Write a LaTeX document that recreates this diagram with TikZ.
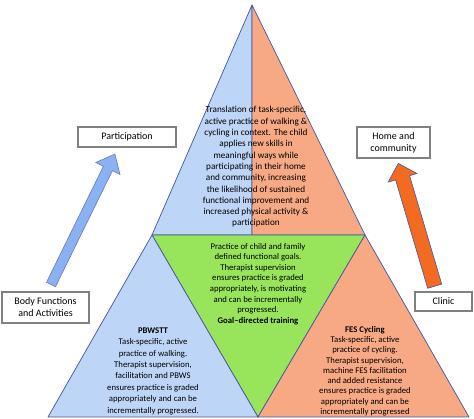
\documentclass[tikz,border=0pt]{standalone}
\usepackage{fontspec}
\setmainfont{Carlito}
\usepackage{tikz}

\definecolor{lblue}{HTML}{BDD5F7}
\definecolor{salmon}{HTML}{F7A984}
\definecolor{lime}{HTML}{98E55C}
\definecolor{edgeblue}{HTML}{45559E}
\definecolor{arrblue}{HTML}{8AB2F2}
\definecolor{arrorange}{HTML}{F26B21}
\definecolor{boxgray}{HTML}{808080}

\tikzset{
  part/.style = {draw = edgeblue, line width = 0.7pt, line join = round},
  levelbox/.style = {draw = boxgray, line width = 1.2pt, fill = white, inner sep = 0pt},
  blocktext/.style = {align = center, inner sep = 0pt, font = \fontsize{8.7}{11.2}\selectfont},
  boxtext/.style = {align = center, inner sep = 0pt, font = \fontsize{10}{12}\selectfont}
}

\begin{document}
\begin{tikzpicture}[x = 1pt, y = -1pt]
  \useasboundingbox (0, 0) rectangle (474, 419);

  \filldraw[part, fill = lblue] (252, 5) -- (152, 235) -- (252, 235) -- cycle;
  \filldraw[part, fill = salmon] (252, 5) -- (252, 235) -- (365, 235) -- cycle;

  \filldraw[part, fill = lime] (152, 235) -- (365, 235) -- (258, 417) -- cycle;
  \filldraw[part, fill = lblue] (152, 235) -- (258, 417) -- (48, 417) -- cycle;
  \filldraw[part, fill = salmon] (365, 235) -- (469, 417) -- (258, 417) -- cycle;

  \filldraw[draw = edgeblue!80, fill = arrblue, line width = 0.6pt]
    (46.5, 282.3) -- (55.5, 286.7) -- (112.4, 170.7) -- (120.0, 174.5)
    -- (114.9, 154.1) -- (95.8, 162.5) -- (103.4, 166.3) -- cycle;
  \filldraw[draw = edgeblue, fill = arrorange, line width = 0.6pt]
    (427.7, 288.3) -- (441.7, 284.1) -- (409.6, 175.7) -- (417.0, 173.5)
    -- (398.3, 163.4) -- (388.2, 182.1) -- (395.6, 179.9) -- cycle;

  \node[blocktext, font = \fontsize{9.2}{11.3}\selectfont] (context) at (256, 167)
    {Translation of task-specific,\\
    active practice of walking \&\\ cycling in context. The child\\
    applies new skills in\\ meaningful ways while\\
    participating in their home\\ and community, increasing\\
    the likelihood of sustained\\ functional improvement and\\
    increased physical activity \&\\ participation};

  \node[blocktext, font = \fontsize{8.7}{10.6}\selectfont] (goals) at (258, 284)
    {Practice of child and family\\ defined functional goals.\\
    Therapist supervision\\ ensures practice is graded\\
    appropriately, is motivating\\ and can be incrementally\\
    progressed.\\ \textbf{Goal--directed training}};

  \node[blocktext, font = \fontsize{8.7}{11.4}\selectfont] (pbwstt) at (153, 371)
    {\textbf{PBWSTT}\\ Task-specific, active\\ practice of walking.\\
    Therapist supervision,\\ facilitation and PBWS\\
    ensures practice is graded\\ appropriately and can be\\
    incrementally progressed.};

  \node[blocktext, font = \fontsize{8.7}{10.3}\selectfont] (fes) at (365, 371)
    {\textbf{FES Cycling}\\ Task-specific, active\\ practice of cycling.\\
    Therapist supervision,\\ machine FES facilitation\\
    and added resistance\\ ensures practice is graded\\
    appropriately and can be\\ incrementally progressed};

  \filldraw[levelbox] (78, 127) rectangle (176, 147);
  \node[boxtext] (participation) at (127, 137) {Participation};
  \filldraw[levelbox] (2, 292) rectangle (89, 323);
  \node[boxtext] (body) at (45.5, 307.5) {Body Functions\\ and Activities};
  \filldraw[levelbox] (357, 127) rectangle (430, 158);
  \node[boxtext] (home) at (393.5, 142.5) {Home and\\ community};
  \filldraw[levelbox] (415, 292) rectangle (472, 311);
  \node[boxtext] (clinic) at (443.5, 301.5) {Clinic};
\end{tikzpicture}
\end{document}
